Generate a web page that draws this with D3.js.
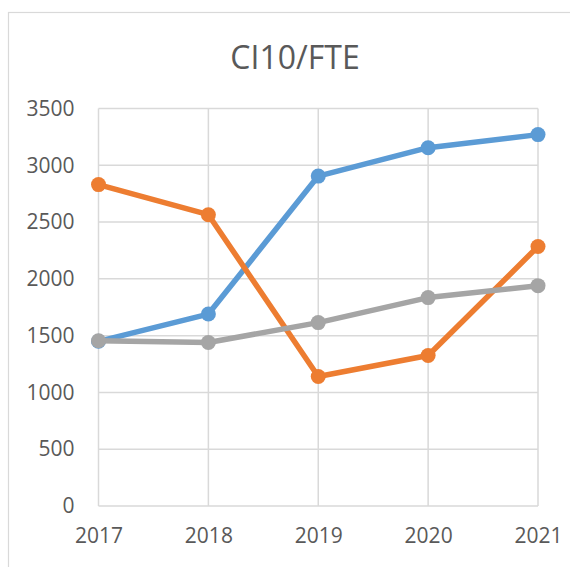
<!DOCTYPE html>
<html>
<head>
<meta charset="utf-8">
<script src="https://cdn.jsdelivr.net/npm/d3@7"></script>
<style>
  body { margin: 0; background: #fff; }
  svg text { font-family: "Open Sans", sans-serif; fill: #595959; }
  .grid line { stroke: #d9d9d9; stroke-width: 1.5; }
  .axis path, .axis line { display: none; }
</style>
</head>
<body>
<div id="chart"></div>
<script>
const years = ['2017', '2018', '2019', '2020', '2021'];
const blueValues = [1450, 1690, 2905, 3155, 3270];
const orangeValues = [2830, 2565, 1140, 1325, 2285];
const grayValues = [1455, 1440, 1615, 1835, 1940];
const yTicks = [0, 500, 1000, 1500, 2000, 2500, 3000, 3500];

const series = [
  { name: 'blue', color: '#5b9bd5', values: blueValues },
  { name: 'orange', color: '#ed7d31', values: orangeValues },
  { name: 'gray', color: '#a5a5a5', values: grayValues }
];

const W = 570, H = 567;
const margin = { top: 108.5, right: 32, bottom: 61, left: 98.5 },
  width = W - margin.left - margin.right,
  height = H - margin.top - margin.bottom;

const svg = d3.select('#chart').append('svg')
  .attr('width', W).attr('height', H);

// chart frame
svg.append('rect')
  .attr('x', 8.5).attr('y', 12.5)
  .attr('width', W + 20).attr('height', H + 20)
  .attr('fill', 'none').attr('stroke', '#d9d9d9').attr('stroke-width', 1.2);

svg.append('text')
  .attr('x', 295).attr('y', 69)
  .attr('text-anchor', 'middle')
  .style('font-size', '32px')
  .text('CI10/FTE');

const g = svg.append('g').attr('transform', 'translate(' + margin.left + ',' + margin.top + ')');

const x = d3.scalePoint().domain(years).range([0, width]);
const y = d3.scaleLinear().domain([0, 3500]).range([height, 0]);

// gridlines
g.append('g').attr('class', 'grid')
  .selectAll('line.h').data(yTicks).enter().append('line')
  .attr('x1', 0).attr('x2', width)
  .attr('y1', d => y(d)).attr('y2', d => y(d));
g.append('g').attr('class', 'grid')
  .selectAll('line.v').data(years).enter().append('line')
  .attr('x1', d => x(d)).attr('x2', d => x(d))
  .attr('y1', 0).attr('y2', height);

// axes (labels only)
g.append('g').attr('class', 'axis')
  .call(d3.axisLeft(y).tickValues(yTicks).tickFormat(d3.format('d')).tickSize(0).tickPadding(24))
  .selectAll('text').style('font-size', '21px').attr('fill', '#595959');
g.append('g').attr('class', 'axis')
  .attr('transform', 'translate(0,' + height + ')')
  .call(d3.axisBottom(x).tickSize(0).tickPadding(22))
  .selectAll('text').style('font-size', '21px').attr('fill', '#595959');

const line = d3.line().x((d, i) => x(years[i])).y(d => y(d));

series.forEach(s => {
  g.append('path')
    .datum(s.values)
    .attr('fill', 'none')
    .attr('stroke', s.color)
    .attr('stroke-width', 5.5)
    .attr('stroke-linejoin', 'round')
    .attr('d', line);
  g.selectAll('.pt-' + s.name).data(s.values).enter().append('circle')
    .attr('class', 'pt-' + s.name)
    .attr('cx', (d, i) => x(years[i]))
    .attr('cy', d => y(d))
    .attr('r', 7.5)
    .attr('fill', s.color);
});
</script>
</body>
</html>
